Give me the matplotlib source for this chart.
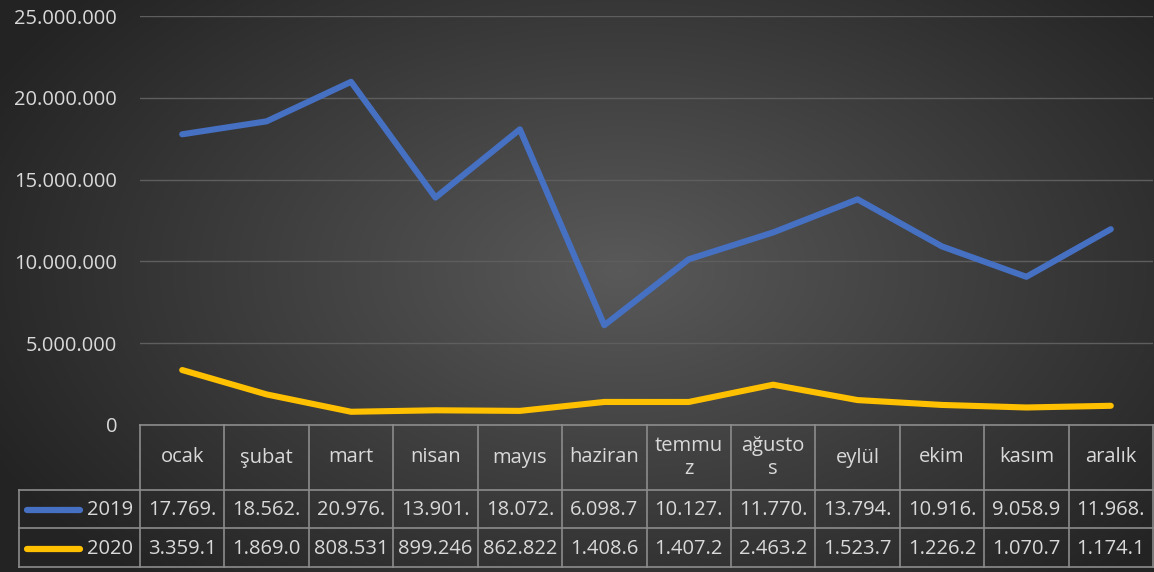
import numpy as np
import matplotlib.pyplot as plt
from matplotlib.transforms import blended_transform_factory

# ── DATA ──────────────────────────────────────────────────────────────────────
months = ["ocak", "şubat", "mart", "nisan", "mayıs", "haziran",
          "temmu\nz", "ağusto\ns", "eylül", "ekim", "kasım", "aralık"]
series_names = ["2019", "2020"]
values_2019 = [17769000, 18562000, 20976000, 13901000, 18072000, 6098700,
               10127000, 11770000, 13794000, 10916000, 9058900, 11968000]
values_2020 = [3359100, 1869000, 808531, 899246, 862822, 1408600,
               1407200, 2463200, 1523700, 1226200, 1070700, 1174100]
y_ticks = [0, 5000000, 10000000, 15000000, 20000000, 25000000]
# ─────────────────────────────────────────────────────────────────────────────

W, H = 1154, 572
TXT = "#d9d9d9"
GRID = "#5e5e5e"
CELL = "#8c8c8c"
COLORS = ["#4670c2", "#ffc000"]
FS = 14.5
plt.rcParams["font.family"] = ["Open Sans", "DejaVu Sans"]


def fmt(v, width=7):
    """Turkish thousands separator, clipped like a narrow table cell."""
    s = f"{v:,}".replace(",", ".")
    return s[:width]


def px_y(y):
    return 1 - y / H


fig = plt.figure(figsize=(W / 100, H / 100), dpi=100)

# radial gradient background
bg = fig.add_axes([0, 0, 1, 1])
yy, xx = np.mgrid[0:H, 0:W]
r = np.sqrt(((xx - 620) / 700.0) ** 2 + ((yy - 270) / 420.0) ** 2)
lum = np.clip(0.35 - 0.21 * r, 0.14, 0.35)
bg.imshow(np.dstack([lum, lum, lum]), extent=[0, W, H, 0], aspect="auto")
bg.axis("off")

left, right, top, bottom = 140, 1153, 16, 425
ax = fig.add_axes([left / W, px_y(bottom), (right - left) / W, (bottom - top) / H])
ax.patch.set_alpha(0)
x = np.arange(len(months))
for vals, c in zip([values_2019, values_2020], COLORS):
    ax.plot(x, vals, color=c, lw=4.4, solid_capstyle="round", solid_joinstyle="round", zorder=3)
ax.set_xlim(-0.5, len(months) - 0.5)
ax.set_ylim(0, 25000000)
ax.set_yticks(y_ticks)
ax.set_yticklabels([fmt(t, 20) for t in y_ticks], color=TXT, fontsize=FS)
ax.tick_params(axis="y", length=0, pad=16.5)
ax.set_xticks([])
ax.grid(axis="y", color=GRID, lw=1)
for s in ax.spines.values():
    s.set_visible(False)

# data table below the axes
tr = blended_transform_factory(ax.transData, fig.transFigure)
row_y = [425, 490, 528, 567]
lw = 1.2
ax.plot([-0.5, 11.5], [px_y(row_y[0])] * 2, transform=tr, color=CELL, lw=lw, clip_on=False)
for yline in row_y[1:]:
    fig.add_artist(plt.Line2D([19 / W, right / W], [px_y(yline)] * 2, color=CELL, lw=lw))
fig.add_artist(plt.Line2D([19 / W, 19 / W], [px_y(row_y[1]), px_y(row_y[3])], color=CELL, lw=lw))
for i in range(len(months) + 1):
    ax.plot([i - 0.5] * 2, [px_y(row_y[0]), px_y(row_y[3])], transform=tr,
            color=CELL, lw=lw, clip_on=False)

for i, m in enumerate(months):
    ax.text(i, px_y((row_y[0] + row_y[1]) / 2), m, transform=tr, ha="center", va="center",
            color=TXT, fontsize=FS, linespacing=1.2)

for r_i, (name, vals, c) in enumerate(zip(series_names, [values_2019, values_2020], COLORS)):
    yc = px_y((row_y[r_i + 1] + row_y[r_i + 2]) / 2 + 1)
    fig.add_artist(plt.Line2D([27 / W, 80 / W], [yc, yc], color=c, lw=4.5, solid_capstyle="round"))
    fig.text(133 / W, yc, name, ha="right", va="center", color=TXT, fontsize=FS)
    for i, v in enumerate(vals):
        ax.text(i, yc, fmt(v), transform=tr, ha="center", va="center", color=TXT, fontsize=FS)

fig.savefig("out.png", dpi=100)
